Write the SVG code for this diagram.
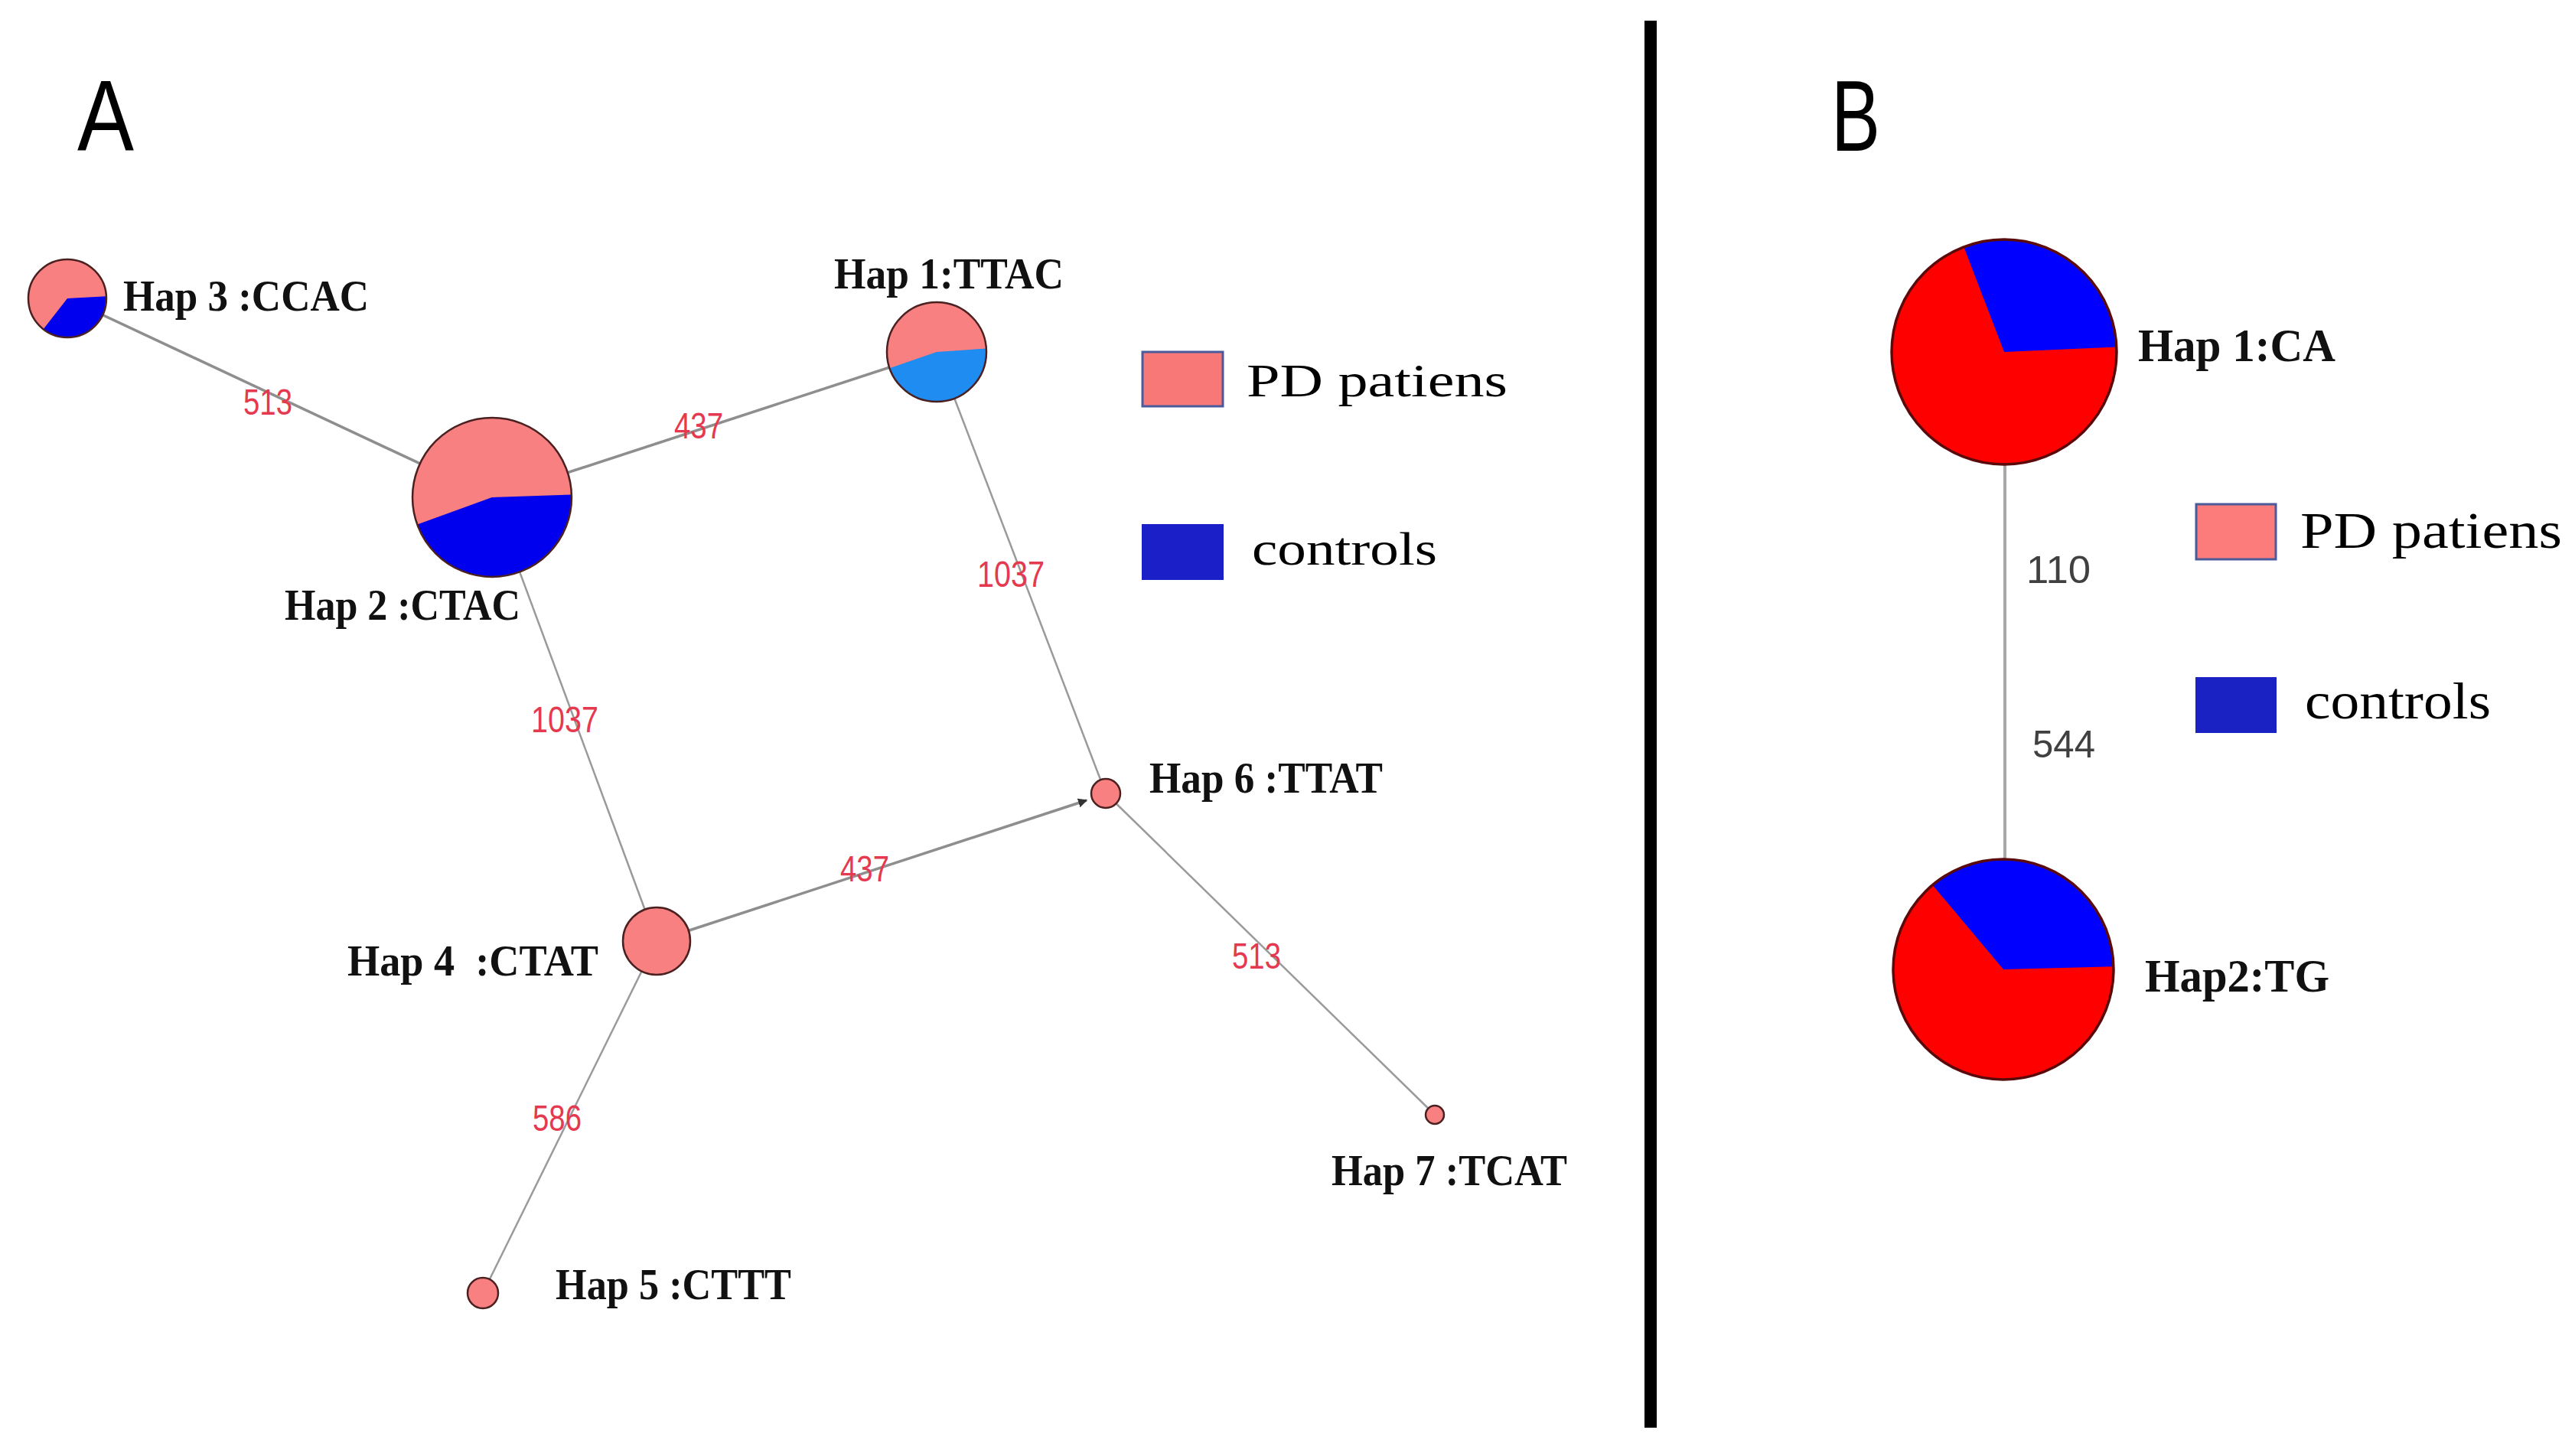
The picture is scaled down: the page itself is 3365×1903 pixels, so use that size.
<svg xmlns="http://www.w3.org/2000/svg" width="3365" height="1903" viewBox="0 0 3365 1903">
<defs>
<style>
.edge{stroke:#9a9a9a;stroke-width:2.5;fill:none}
.edgeb{stroke:#8e8e8e;stroke-width:3.5;fill:none}
.elab{font-family:"Liberation Sans",Arial,sans-serif;font-size:48px;fill:#e53950;text-anchor:middle}
.blab{font-family:"Liberation Sans",Arial,sans-serif;font-size:50px;fill:#404040;text-anchor:middle}
.nlab{font-family:"Liberation Serif","Times New Roman",serif;font-weight:bold;font-size:58px;fill:#111;white-space:pre}
.nlabB{font-family:"Liberation Serif","Times New Roman",serif;font-weight:bold;font-size:62px;fill:#111}
.leg{font-family:"Liberation Serif","Times New Roman",serif;fill:#000}
.pink{fill:#f88080}
.ring{fill:none;stroke:#4a2020;stroke-width:2.5}
.ringB{fill:none;stroke:#5a0a0a;stroke-width:3.5}
.panel{font-family:"Liberation Sans",Arial,sans-serif;font-size:131px;fill:#000}
</style>
<marker id="arr" viewBox="0 0 10 10" refX="9" refY="5" markerWidth="3.5" markerHeight="3.5" orient="auto" markerUnits="strokeWidth">
<path d="M0,0 L10,5 L0,10 z" fill="#333"/>
</marker>
</defs>
<rect x="0" y="0" width="3365" height="1903" fill="#fff"/>

<text class="panel" x="101" y="197" textLength="74" lengthAdjust="spacingAndGlyphs">A</text>
<text class="panel" x="2393" y="197" textLength="64" lengthAdjust="spacingAndGlyphs">B</text>
<rect x="2149" y="27" width="16" height="1839" fill="#000"/>

<g id="connectors">
<line class="edgeb" x1="88" y1="390" x2="643" y2="650"/>
<line class="edgeb" x1="643" y1="650" x2="1224" y2="460"/>
<line class="edge" x1="1224" y1="460" x2="1445" y2="1037"/>
<line class="edge" x1="643" y1="650" x2="858" y2="1230"/>
<line class="edgeb" x1="858" y1="1230" x2="1420" y2="1046" marker-end="url(#arr)"/>
<line class="edge" x1="1445" y1="1037" x2="1875" y2="1457"/>
<line class="edge" x1="858" y1="1230" x2="631" y2="1690"/>
<text class="elab" x="350" y="542" textLength="64" lengthAdjust="spacingAndGlyphs">513</text>
<text class="elab" x="913" y="573" textLength="64" lengthAdjust="spacingAndGlyphs">437</text>
<text class="elab" x="1321" y="767" textLength="88" lengthAdjust="spacingAndGlyphs">1037</text>
<text class="elab" x="738" y="957" textLength="88" lengthAdjust="spacingAndGlyphs">1037</text>
<text class="elab" x="1130" y="1152" textLength="64" lengthAdjust="spacingAndGlyphs">437</text>
<text class="elab" x="1642" y="1266" textLength="64" lengthAdjust="spacingAndGlyphs">513</text>
<text class="elab" x="728" y="1478" textLength="64" lengthAdjust="spacingAndGlyphs">586</text>
<line x1="2620" y1="607" x2="2620" y2="1123" stroke="#a8a8a8" stroke-width="4"/>
<text class="blab" x="2690" y="762" textLength="84" lengthAdjust="spacingAndGlyphs">110</text>
<text class="blab" x="2697" y="990" textLength="82" lengthAdjust="spacingAndGlyphs">544</text>
</g>

<g id="hap3">
<circle class="pink" cx="88" cy="390" r="51"/>
<path d="M88,390 L138.9,387.3 A51,51 0 0 1 56.6,430.2 Z" fill="#0000ee"/>
<circle class="ring" cx="88" cy="390" r="51"/>
<text class="nlab" x="161" y="406" textLength="321" lengthAdjust="spacingAndGlyphs">Hap 3 :CCAC</text>
</g>

<g id="hap2">
<circle class="pink" cx="643" cy="650" r="104"/>
<path d="M643,650 L746.9,646.4 A104,104 0 0 1 545.3,685.6 Z" fill="#0000ee"/>
<circle class="ring" cx="643" cy="650" r="104"/>
<text class="nlab" x="372" y="810" textLength="308" lengthAdjust="spacingAndGlyphs">Hap 2 :CTAC</text>
</g>

<g id="hap1">
<circle class="pink" cx="1224" cy="460" r="65"/>
<path d="M1224,460 L1288.8,455.5 A65,65 0 0 1 1162.5,481.2 Z" fill="#1e8cf0"/>
<circle class="ring" cx="1224" cy="460" r="65"/>
<text class="nlab" x="1090" y="377" textLength="300" lengthAdjust="spacingAndGlyphs">Hap 1:TTAC</text>
</g>

<g id="hap4">
<circle class="pink" cx="858" cy="1230" r="44"/>
<circle class="ring" cx="858" cy="1230" r="44"/>
<text class="nlab" x="454" y="1275" textLength="328" lengthAdjust="spacingAndGlyphs">Hap 4  :CTAT</text>
</g>

<g id="hap5">
<circle class="pink" cx="631" cy="1690" r="20"/>
<circle class="ring" cx="631" cy="1690" r="20"/>
<text class="nlab" x="726" y="1698" textLength="308" lengthAdjust="spacingAndGlyphs">Hap 5 :CTTT</text>
</g>

<g id="hap6">
<circle class="pink" cx="1445" cy="1037" r="19"/>
<circle class="ring" cx="1445" cy="1037" r="19"/>
<text class="nlab" x="1502" y="1036" textLength="305" lengthAdjust="spacingAndGlyphs">Hap 6 :TTAT</text>
</g>

<g id="hap7">
<circle class="pink" cx="1875" cy="1457" r="12"/>
<circle class="ring" cx="1875" cy="1457" r="12"/>
<text class="nlab" x="1740" y="1549" textLength="308" lengthAdjust="spacingAndGlyphs">Hap 7 :TCAT</text>
</g>

<g id="legendA">
<rect x="1493" y="460" width="105" height="71" fill="#f87878" stroke="#4a5a9a" stroke-width="3"/>
<text class="leg" x="1629" y="518" font-size="62" textLength="341" lengthAdjust="spacingAndGlyphs">PD patiens</text>
<rect x="1492" y="685" width="107" height="73" fill="#1a1fc8"/>
<text class="leg" x="1636" y="738" font-size="62" textLength="242" lengthAdjust="spacingAndGlyphs">controls</text>
</g>

<g id="hapB1">
<circle cx="2619" cy="460" r="147" fill="#ff0000"/>
<path d="M2619,460 L2566.3,322.8 A147,147 0 0 1 2765.9,453.6 Z" fill="#0000ff"/>
<circle class="ringB" cx="2619" cy="460" r="147"/>
<text class="nlabB" x="2794" y="472" textLength="258" lengthAdjust="spacingAndGlyphs">Hap 1:CA</text>
</g>

<g id="hapB2">
<circle cx="2618" cy="1267" r="144" fill="#ff0000"/>
<path d="M2618,1267 L2525.4,1156.7 A144,144 0 0 1 2762,1263.2 Z" fill="#0000ff"/>
<circle class="ringB" cx="2618" cy="1267" r="144"/>
<text class="nlabB" x="2803" y="1296" textLength="241" lengthAdjust="spacingAndGlyphs">Hap2:TG</text>
</g>

<g id="legendB">
<rect x="2870" y="659" width="104" height="72" fill="#fc7c7c" stroke="#4a5a9a" stroke-width="3"/>
<text class="leg" x="3006" y="716" font-size="68" textLength="342" lengthAdjust="spacingAndGlyphs">PD patiens</text>
<rect x="2869" y="885" width="106" height="73" fill="#1a22c4"/>
<text class="leg" x="3012" y="939" font-size="68" textLength="243" lengthAdjust="spacingAndGlyphs">controls</text>
</g>
</svg>
